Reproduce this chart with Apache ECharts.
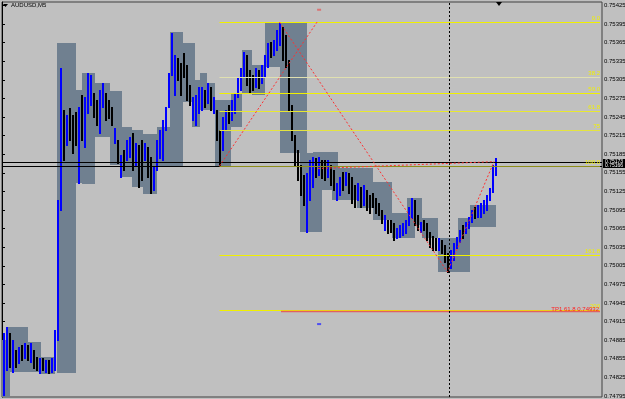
<!DOCTYPE html>
<html><head><meta charset="utf-8">
<script src="https://cdn.jsdelivr.net/npm/echarts@6/dist/echarts.min.js"></script>
<style>html,body{margin:0;padding:0;background:#c0c0c0;}#c{width:625px;height:399px;}</style>
</head><body><div id="c"></div>
<script>
const symbolTitle = 'AUDUSD,M5';
const yTicks = [0.74795,0.74825,0.74855,0.74885,0.74915,0.74945,0.74975,0.75005,0.75035,0.75065,0.75095,
  0.75125,0.75155,0.75185,0.75215,0.75245,0.75275,0.75305,0.75335,0.75365,0.75395,0.75425];

const opens = [
0.74820,0.74850,0.74890,0.74845,0.74865,0.74852,0.74872,0.74860,0.74873,0.74855,
0.74865,0.74855,0.74836,0.74852,0.74838,0.74850,0.74837,0.74845,0.74895,0.75100,
0.75250,0.75205,0.75250,0.75240,0.75245,0.75150,0.75270,0.75205,0.75260,0.75270,
0.75280,0.75265,0.75225,0.75265,0.75278,0.75268,0.75257,0.75206,0.75203,0.75152,
0.75188,0.75180,0.75184,0.75212,0.75172,0.75193,0.75200,0.75179,0.75192,0.75175,
0.75130,0.75164,0.75183,0.75182,0.75228,0.75265,0.75318,0.75290,0.75336,0.75326,
0.75343,0.75322,0.75292,0.75244,0.75237,0.75256,0.75260,0.75285,0.75272,0.75288,
0.75255,0.75250,0.75218,0.75197,0.75228,0.75260,0.75244,0.75255,0.75281,0.75293,
0.75313,0.75340,0.75316,0.75309,0.75296,0.75317,0.75303,0.75313,0.75330,0.75362,
0.75348,0.75357,0.75365,0.75385,0.75372,0.75330,0.75258,0.75211,0.75187,0.75163,
0.75146,0.75070,0.75118,0.75137,0.75175,0.75155,0.75172,0.75171,0.75151,0.75164,
0.75155,0.75114,0.75122,0.75152,0.75138,0.75150,0.75143,0.75131,0.75114,0.75128,
0.75107,0.75123,0.75115,0.75118,0.75110,0.75102,0.75091,0.75066,0.75075,0.75075,
0.75070,0.75052,0.75054,0.75057,0.75061,0.75074,0.75086,0.75106,0.75083,0.75062,
0.75076,0.75070,0.75056,0.75050,0.75047,0.75033,0.75044,0.75035,0.75022,0.75004,
0.75018,0.75037,0.75046,0.75067,0.75061,0.75069,0.75079,0.75097,0.75087,0.75088,
0.75093,0.75098,0.75114,0.75128,0.75155];
const closes = [
0.74880,0.74895,0.74850,0.74875,0.74848,0.74870,0.74857,0.74876,0.74857,0.74875,
0.74845,0.74840,0.74852,0.74840,0.74850,0.74836,0.74852,0.74895,0.75100,0.75300,
0.75185,0.75240,0.75215,0.75195,0.75205,0.75255,0.75215,0.75270,0.75305,0.75305,
0.75250,0.75238,0.75280,0.75295,0.75246,0.75248,0.75237,0.75223,0.75176,0.75180,
0.75165,0.75204,0.75209,0.75166,0.75199,0.75140,0.75150,0.75200,0.75154,0.75128,
0.75160,0.75203,0.75219,0.75235,0.75257,0.75310,0.75372,0.75338,0.75309,0.75286,
0.75313,0.75278,0.75268,0.75273,0.75275,0.75288,0.75288,0.75265,0.75295,0.75261,
0.75273,0.75214,0.75172,0.75240,0.75252,0.75239,0.75268,0.75280,0.75305,0.75320,
0.75345,0.75302,0.75288,0.75292,0.75320,0.75295,0.75325,0.75341,0.75360,0.75346,
0.75365,0.75381,0.75393,0.75342,0.75331,0.75262,0.75213,0.75172,0.75148,0.75124,
0.75108,0.75148,0.75170,0.75175,0.75152,0.75176,0.75150,0.75147,0.75172,0.75139,
0.75131,0.75135,0.75144,0.75131,0.75153,0.75126,0.75110,0.75104,0.75135,0.75104,
0.75131,0.75099,0.75094,0.75104,0.75094,0.75090,0.75077,0.75084,0.75061,0.75063,
0.75050,0.75063,0.75068,0.75071,0.75076,0.75096,0.75110,0.75075,0.75066,0.75073,
0.75066,0.75050,0.75038,0.75033,0.75033,0.75047,0.75029,0.75015,0.74999,0.75026,
0.75038,0.75048,0.75060,0.75053,0.75073,0.75081,0.75092,0.75085,0.75100,0.75103,
0.75108,0.75116,0.75127,0.75164,0.75173];
const lows = [
0.74797,0.74837,0.74842,0.74834,0.74842,0.74848,0.74853,0.74856,0.74853,0.74850,
0.74840,0.74837,0.74832,0.74837,0.74834,0.74832,0.74834,0.74837,0.74885,0.75095,
0.75176,0.75200,0.75208,0.75187,0.75200,0.75138,0.75208,0.75197,0.75251,0.75264,
0.75245,0.75232,0.75219,0.75261,0.75240,0.75243,0.75232,0.75203,0.75171,0.75148,
0.75160,0.75176,0.75180,0.75160,0.75168,0.75132,0.75143,0.75176,0.75148,0.75122,
0.75127,0.75160,0.75179,0.75176,0.75224,0.75261,0.75313,0.75280,0.75305,0.75280,
0.75309,0.75272,0.75264,0.75240,0.75232,0.75251,0.75256,0.75261,0.75268,0.75256,
0.75251,0.75208,0.75166,0.75192,0.75224,0.75235,0.75240,0.75251,0.75277,0.75289,
0.75309,0.75297,0.75284,0.75289,0.75293,0.75292,0.75300,0.75309,0.75326,0.75342,
0.75345,0.75353,0.75361,0.75337,0.75326,0.75256,0.75208,0.75168,0.75143,0.75119,
0.75103,0.75060,0.75111,0.75132,0.75148,0.75151,0.75147,0.75143,0.75148,0.75135,
0.75127,0.75111,0.75119,0.75127,0.75135,0.75122,0.75106,0.75100,0.75111,0.75100,
0.75103,0.75095,0.75090,0.75100,0.75090,0.75087,0.75074,0.75063,0.75058,0.75060,
0.75047,0.75050,0.75052,0.75055,0.75058,0.75071,0.75082,0.75071,0.75063,0.75060,
0.75063,0.75047,0.75035,0.75030,0.75030,0.75030,0.75026,0.75011,0.74995,0.75001,
0.75014,0.75034,0.75043,0.75050,0.75058,0.75066,0.75076,0.75082,0.75084,0.75084,
0.75090,0.75095,0.75111,0.75124,0.75151];
const highs = [
0.74896,0.74906,0.74896,0.74885,0.74869,0.74874,0.74877,0.74880,0.74877,0.74880,
0.74869,0.74858,0.74856,0.74856,0.74853,0.74853,0.74856,0.74901,0.75111,0.75324,
0.75256,0.75248,0.75259,0.75248,0.75253,0.75261,0.75280,0.75277,0.75316,0.75313,
0.75284,0.75272,0.75289,0.75300,0.75284,0.75272,0.75261,0.75227,0.75208,0.75184,
0.75192,0.75208,0.75213,0.75219,0.75203,0.75200,0.75208,0.75203,0.75197,0.75180,
0.75164,0.75208,0.75224,0.75240,0.75261,0.75316,0.75380,0.75345,0.75340,0.75332,
0.75348,0.75329,0.75297,0.75277,0.75280,0.75293,0.75293,0.75289,0.75300,0.75293,
0.75277,0.75256,0.75224,0.75245,0.75256,0.75264,0.75272,0.75284,0.75309,0.75324,
0.75350,0.75345,0.75321,0.75313,0.75324,0.75321,0.75329,0.75345,0.75364,0.75366,
0.75369,0.75385,0.75398,0.75390,0.75377,0.75337,0.75264,0.75216,0.75192,0.75168,
0.75151,0.75154,0.75176,0.75180,0.75179,0.75180,0.75176,0.75176,0.75176,0.75168,
0.75160,0.75139,0.75148,0.75156,0.75156,0.75155,0.75148,0.75135,0.75139,0.75132,
0.75135,0.75127,0.75119,0.75122,0.75114,0.75106,0.75095,0.75087,0.75079,0.75079,
0.75074,0.75066,0.75071,0.75074,0.75079,0.75100,0.75114,0.75111,0.75087,0.75076,
0.75079,0.75074,0.75060,0.75053,0.75050,0.75050,0.75047,0.75039,0.75026,0.75030,
0.75042,0.75051,0.75063,0.75071,0.75076,0.75084,0.75095,0.75100,0.75103,0.75106,
0.75111,0.75119,0.75130,0.75168,0.75179];

// range boxes: [startBar, endBar, low, high]
const boxes = [
[0,2.67,0.74794,0.74885],[1.67,8.67,0.74834,0.74906],[8.67,13,0.74834,0.74882],[13,17.67,0.74831,0.74858],
[18.33,24.67,0.74832,0.75364],[24.67,26.67,0.75138,0.75289],[26.67,31,0.75137,0.75316],[31,36,0.75213,0.75300],
[36,40,0.75168,0.75287],[40,43.33,0.75148,0.75229],[43.33,47,0.75132,0.75224],[47,51.67,0.75121,0.75217],
[51.67,56,0.75164,0.75229],[56,60.33,0.75164,0.75382],[60.33,64.33,0.75269,0.75364],[63.33,66,0.75229,0.75305],
[66,68.33,0.75256,0.75316],[68.33,71,0.75256,0.75300],[71,76.33,0.75166,0.75272],[76.33,80,0.75229,0.75284],
[80,83.33,0.75284,0.75353],[83.33,87.67,0.75281,0.75329],[87.67,92.67,0.75326,0.75397],[92.67,101.67,0.75187,0.75398],
[99.33,106.67,0.75060,0.75187],[103.67,112,0.75127,0.75189],[110,118.33,0.75111,0.75163],[118.33,123.67,0.75098,0.75163],
[123.67,130,0.75079,0.75140],[130,137.67,0.75050,0.75090],[135,140,0.75071,0.75114],[140,145.33,0.75050,0.75082],
[145.33,152,0.74995,0.75050],[152,156,0.74995,0.75082],[156,164.67,0.75068,0.75103]];

const fibNames = ['0.0','38.2','50.0','61.8','75','100.0','161.8','200'];
const fibPrices = [0.75398,0.75309,0.75283,0.75255,0.75224,0.75166,0.75023,0.74934];
const fibStart = 72.5;
const fibAnchor = [[72.5,0.75166],[105,0.75398]];
const zigzag = [[92.5,0.75398],[148.5,0.74995],[164,0.75173]];
const zigFlat = [[105.3,0.75162],[164,0.75173]];
const tpName = 'TP1 61.8 0.74932';
const tpPrice = 0.74932, tpStart = 93;
const bidAsk = [0.75173, 0.75166];
const cursorBar = 149;
const arrowTop = [[105.7, 0.75418]];
const arrowBottom = [[105.7, 0.74911]];

const Y_MIN = 0.747934, Y_MAX = 0.754305, X_MAX = 200;
const fibColors = ['#f0f000','#e0e0b0','#f0f000','#e8e830','#e4e440','#8e8e1a','#f0f000','#f0f000'];
const FONT = 'Liberation Sans';

const chart = echarts.init(document.getElementById('c'), null, {renderer:'canvas'});
const candleData = opens.map((o,i)=>[i+0.5, o, closes[i], lows[i], highs[i]]);

chart.setOption({
  animation:false,
  backgroundColor:'#c0c0c0',
  grid:{left:2, right:23, top:2, bottom:2, containLabel:false, outerBoundsMode:'none',
        show:true, borderColor:'#404040', borderWidth:1, backgroundColor:'transparent'},
  xAxis:{type:'value', min:0, max:X_MAX, show:false},
  yAxis:{type:'value', position:'right', min:Y_MIN, max:Y_MAX, scale:true,
    axisLine:{show:true, lineStyle:{color:'#000', width:1}},
    axisTick:{show:true, length:3, customValues:yTicks, lineStyle:{color:'#000'}},
    axisLabel:{show:true, customValues:yTicks, formatter:v=>v.toFixed(5), fontSize:6, color:'#000', margin:2, fontFamily:FONT},
    splitLine:{show:false}},
  graphic:[
    {type:'polygon', shape:{points:[[3,4],[8,4],[5.5,7]]}, style:{fill:'#000'}},
    {type:'text', left:11, top:2, style:{text:symbolTitle, fontSize:6, fill:'#000', fontFamily:FONT}},
    {type:'polygon', shape:{points:[[496,2],[502,2],[499,6]]}, style:{fill:'#000'}}
  ],
  series:[
    {type:'custom', name:'boxes', data:boxes, z:1, silent:true,
     renderItem(params, api){
       const a = api.coord([api.value(0), api.value(3)]);
       const b = api.coord([api.value(1), api.value(2)]);
       const x0 = Math.round(a[0]), x1 = Math.round(b[0]), y0 = Math.round(a[1]), y1 = Math.round(b[1]);
       return {type:'rect', shape:{x:x0, y:y0, width:x1-x0, height:y1-y0}, style:{fill:'#708090'}};
     }},
    {type:'custom', name:'candles', data:candleData, z:2, silent:true,
     renderItem(params, api){
       const x = api.value(0);
       const hi = api.coord([x, api.value(4)]);
       const lo = api.coord([x, api.value(3)]);
       const up = api.value(2) >= api.value(1);
       const px = Math.round(hi[0]);
       return {type:'line', shape:{x1:px, y1:Math.round(hi[1]), x2:px, y2:Math.round(lo[1])+1},
               style:{stroke: up ? '#0000ff' : '#000000', lineWidth:2}};
     }},
    {type:'custom', name:'bidask', data:bidAsk.map(p=>[p]), z:3, silent:true,
     renderItem(params, api){
       const a = api.coord([0, api.value(0)]);
       const b = api.coord([X_MAX, api.value(0)]);
       const y = Math.round(a[1]) + 0.5;
       return {type:'line', shape:{x1:a[0], y1:y, x2:b[0], y2:y}, style:{stroke:'#000', lineWidth:1}};
     }},
    {type:'custom', name:'fib', data:fibPrices.map((p,i)=>[fibStart, X_MAX, p]), z:4, silent:true,
     renderItem(params, api){
       const i = params.dataIndex;
       const a = api.coord([api.value(0), api.value(2)]);
       const b = api.coord([api.value(1), api.value(2)]);
       const y = Math.round(a[1]) + 0.5;
       return {type:'group', children:[
         {type:'line', shape:{x1:a[0], y1:y, x2:b[0]-2, y2:y}, style:{stroke:fibColors[i], lineWidth:1}},
         {type:'text', x:b[0]-2, y:y-1, style:{text:fibNames[i], fill:'#f0f000', fontSize:6,
           align:'right', verticalAlign:'bottom', fontFamily:FONT}}
       ]};
     }},
    {type:'custom', name:'tp', data:[[tpStart, X_MAX, tpPrice]], z:4, silent:true,
     renderItem(params, api){
       const a = api.coord([api.value(0), api.value(2)]);
       const b = api.coord([api.value(1), api.value(2)]);
       const y = Math.round(a[1]) + 0.5;
       return {type:'group', children:[
         {type:'line', shape:{x1:a[0], y1:y, x2:b[0]-2, y2:y}, style:{stroke:'#e06060', lineWidth:1.5}},
         {type:'text', x:b[0]-3, y:y-2, style:{text:tpName, fill:'#ff2020', fontSize:6,
           align:'right', verticalAlign:'middle', fontFamily:FONT}}
       ]};
     }},
    {type:'line', data:fibAnchor, symbol:'none', z:5, silent:true,
     lineStyle:{color:'#ff3030', width:1, type:[2,2]}},
    {type:'line', data:zigzag, symbol:'none', z:5, silent:true,
     lineStyle:{color:'#ff3030', width:1, type:[2,2]}},
    {type:'line', data:zigFlat, symbol:'none', z:5, silent:true,
     lineStyle:{color:'#ff3030', width:1, type:[2,2]},
     markLine:{silent:true, symbol:'none', label:{show:false}, data:[{xAxis:cursorBar}],
       lineStyle:{color:'#000', width:1, type:[2,2]}}},
    {type:'scatter', data:arrowTop, symbol:'rect', symbolSize:[4,2], itemStyle:{color:'#e06060'}, z:6, silent:true},
    {type:'scatter', data:arrowBottom, symbol:'rect', symbolSize:[4,2], itemStyle:{color:'#3030ff'}, z:6, silent:true},
    {type:'custom', name:'pricebox', data:bidAsk.map(p=>[p]), z:7, silent:true,
     renderItem(params, api){
       const a = api.coord([X_MAX, api.value(0)]);
       const y = Math.round(a[1]);
       return {type:'group', children:[
         {type:'rect', shape:{x:603, y:y-3, width:22, height:5}, style:{fill:'#000'}},
         {type:'text', x:605, y:y-0.5, style:{text:api.value(0).toFixed(5), fill:'#fff', fontSize:5,
           verticalAlign:'middle', fontFamily:FONT}}
       ]};
     }}
  ]
});
</script></body></html>
